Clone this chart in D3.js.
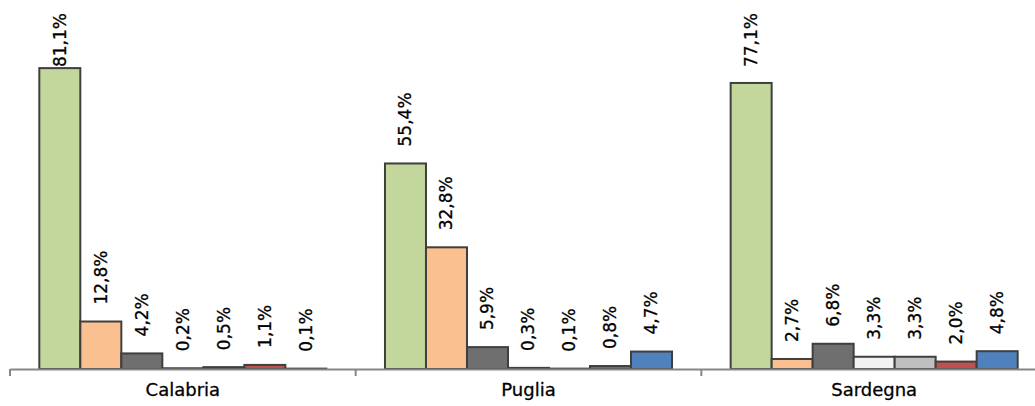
<!DOCTYPE html>
<html>
<head>
<meta charset="utf-8">
<script src="https://cdn.jsdelivr.net/npm/d3@7"></script>
<style>
    body { margin: 0; background: #fff; }
    text { font-family: "DejaVu Sans", sans-serif; }
</style>
</head>
<body>
<svg id="chart" width="1035" height="406"></svg>
<script>
    // data
    var regions = ['Calabria', 'Puglia', 'Sardegna'];
    var series = ['s1', 's2', 's3', 's4', 's5', 's6', 's7'];
    var calabria = [81.1, 12.8, 4.2, 0.2, 0.5, 1.1, 0.1];
    var puglia = [55.4, 32.8, 5.9, 0.3, 0.1, 0.8, 4.7];
    var sardegna = [77.1, 2.7, 6.8, 3.3, 3.3, 2.0, 4.8];
    var colors = ['#c3d69b', '#fac08f', '#6f6f6f', '#f2f2f2', '#bfbfbf', '#c0504d', '#4f81bd'];

    var values = [calabria, puglia, sardegna];

    var svg = d3.select('#chart'),
        baseY = 369,
        plotTop = 13;

    var x0 = d3.scaleBand().domain(regions).range([10, 1047]),
        x1 = d3.scaleBand().domain(series).range([0, x0.bandwidth()]).paddingOuter(0.715),
        y = d3.scaleLinear().domain([0, 100]).range([baseY, -2]),
        fmt = function (v) { return d3.format('.1f')(v).replace('.', ',') + '%'; };

    var groups = svg.selectAll('g.region')
        .data(regions)
        .enter().append('g')
        .attr('class', 'region')
        .attr('transform', function (d) { return 'translate(' + x0(d) + ',0)'; });

    groups.selectAll('rect')
        .data(function (d, i) {
            return values[i].map(function (v, j) { return { s: series[j], v: v, c: colors[j] }; });
        })
        .enter().append('rect')
        .attr('x', function (d) { return x1(d.s); })
        .attr('y', function (d) { return y(d.v); })
        .attr('width', x1.bandwidth())
        .attr('height', function (d) { return baseY - y(d.v); })
        .attr('fill', function (d) { return d.c; })
        .attr('stroke', '#3f3f3f')
        .attr('stroke-width', 2);

    // axis
    var axis = d3.axisBottom(x0).tickSize(0).tickPadding(0);
    var ag = svg.append('g').attr('transform', 'translate(0,' + baseY + ')').call(axis);
    ag.select('.domain').attr('stroke', '#868686').attr('stroke-width', 2);
    ag.selectAll('.tick text')
        .attr('y', 27)
        .attr('dy', 0)
        .attr('fill', '#000')
        .attr('stroke', '#000')
        .attr('stroke-width', 0.3)
        .style('font-size', '18px');
    ag.selectAll('line.sep')
        .data(regions.concat(['end']))
        .enter().append('line')
        .attr('class', 'sep')
        .attr('x1', function (d, i) { return 10 + i * x0.step(); })
        .attr('x2', function (d, i) { return 10 + i * x0.step(); })
        .attr('y1', 0).attr('y2', 7)
        .attr('stroke', '#868686').attr('stroke-width', 2);

    // value labels, rotated; kept inside the plot top like the original
    groups.selectAll('text.val')
        .data(function (d, i) {
            return values[i].map(function (v, j) { return { s: series[j], v: v }; });
        })
        .enter().append('text')
        .attr('class', 'val')
        .style('font-size', '17px')
        .attr('fill', '#000')
        .attr('stroke', '#000')
        .attr('stroke-width', 0.3)
        .attr('dy', '0.35em')
        .text(function (d) { return fmt(d.v); })
        .attr('transform', function (d) {
            var len = this.getComputedTextLength(),
                bottom = Math.max(y(d.v) - 17, len + plotTop),
                cx = x1(d.s) + x1.bandwidth() / 2;
            return 'translate(' + cx + ',' + bottom + ') rotate(-90)';
        });
</script>
</body>
</html>
